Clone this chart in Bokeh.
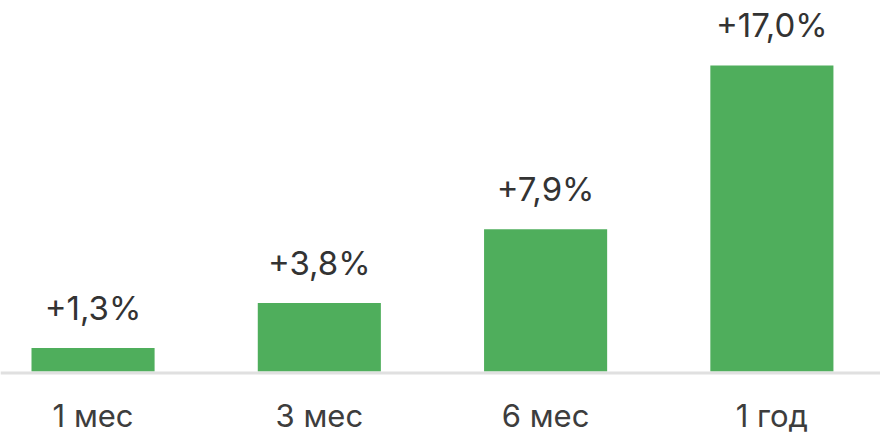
import numpy as np
from bokeh.core.properties import value
from bokeh.models import ColumnDataSource, Range1d, Span
from bokeh.plotting import figure
from bokeh.embed import file_html
from bokeh.resources import INLINE

# periods and returns, %
periods = ["1 мес", "3 мес", "6 мес", "1 год"]
returns = [1.3, 3.8, 7.9, 17.0]
labels = ["+1,3%", "+3,8%", "+7,9%", "+17,0%"]

x = np.arange(len(periods))
source = ColumnDataSource(data={
    'x': x,
    'top': returns,
    'label': labels,
    'period': periods,
    'zero': [0] * len(periods),
})

p = figure(width=880, height=446, output_backend="svg", toolbar_location=None,
           x_range=Range1d(-0.409, 3.480), y_range=Range1d(-4.167, 20.611),
           min_border=0, outline_line_color=None)
p.axis.visible = False
p.grid.visible = False

# bars
p.vbar('x', 0.544, 'top', 0, source=source, fill_color="#4FAE5C", line_color=None)

# baseline just under the bars
p.add_layout(Span(location=-0.09, dimension="width", line_color="#E0E0E0",
                  line_width=3))

# value labels above bars
p.text('x', 'top', text='label', source=source, text_align="center",
       text_baseline="alphabetic", y_offset=-40, text_font=value("Inter"),
       text_font_size="33px", text_color="#333333")

# period labels under the axis
p.text('x', 'zero', text='period', source=source, text_align="center",
       text_baseline="alphabetic", y_offset=44, text_font=value("Inter"),
       text_font_size="31px", text_color="#3d3d3d")

open("out.html", "w").write(file_html(p, INLINE))
